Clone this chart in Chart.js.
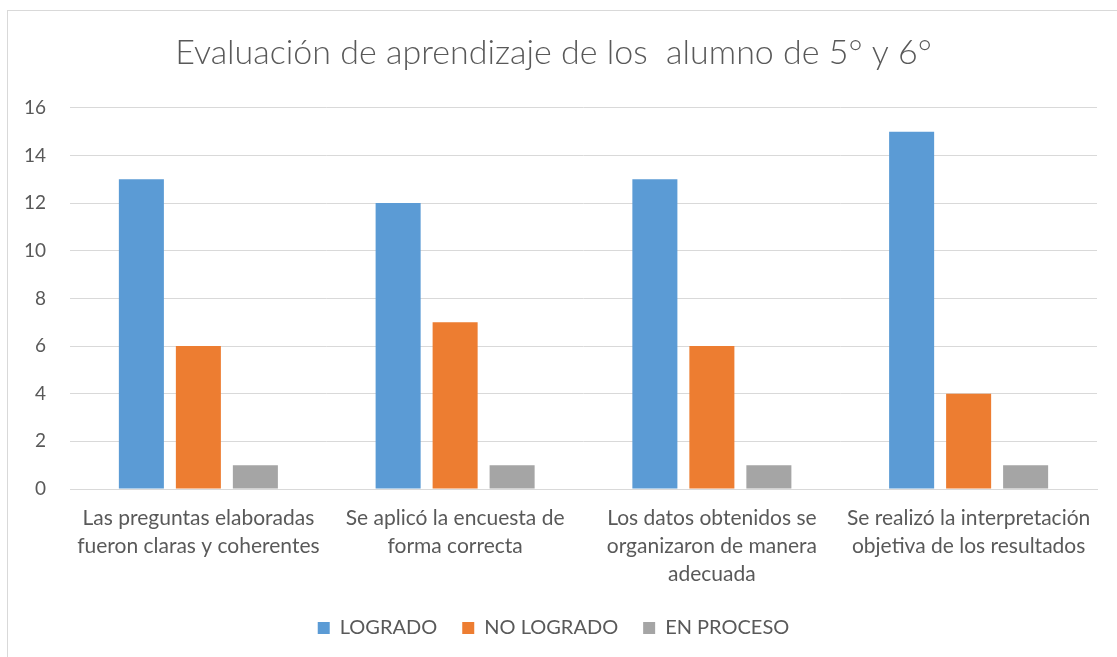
<!DOCTYPE html>
<html>
<head>
<meta charset="utf-8">
<script src="https://cdn.jsdelivr.net/npm/chart.js@4/dist/chart.umd.min.js"></script>
<style>
html,body{margin:0;padding:0;background:#fff;}
#wrap{position:absolute;left:0;top:0;width:1117px;height:657px;}
</style>
</head>
<body>
<div id="wrap"><canvas id="c" width="1117" height="657"></canvas></div>
<script>
const titleText = 'Evaluación de aprendizaje de los  alumno de 5° y 6°';
const categories = [
  ['Las preguntas elaboradas', 'fueron claras y coherentes'],
  ['Se aplicó la encuesta de', 'forma correcta'],
  ['Los datos obtenidos se', 'organizaron de manera', 'adecuada'],
  ['Se realizó la interpretación', 'objetiva de los resultados']
];
const seriesNames = ['LOGRADO', 'NO LOGRADO', 'EN PROCESO'];
const logrado = [13, 12, 13, 15];
const noLogrado = [6, 7, 6, 4];
const enProceso = [1, 1, 1, 1];
const yTicks = [0, 2, 4, 6, 8, 10, 12, 14, 16];
const colors = ['#5B9BD5', '#ED7D31', '#A5A5A5'];

const FONT = 'Lato, "Liberation Sans", sans-serif';
const TXT = '#595959';

const frame = {
  id: 'frame',
  beforeDraw(chart) {
    const ctx = chart.ctx;
    ctx.save();
    ctx.fillStyle = '#fff';
    ctx.fillRect(0, 0, chart.width, chart.height);
    ctx.strokeStyle = '#d9d9d9';
    ctx.lineWidth = 1;
    ctx.strokeRect(7.5, 10.5, chart.width + 20, chart.height + 20);
    ctx.restore();
  }
};

new Chart(document.getElementById('c'), {
  type: 'bar',
  data: {
    labels: categories,
    datasets: [
      { label: seriesNames[0], data: logrado, backgroundColor: colors[0] },
      { label: seriesNames[1], data: noLogrado, backgroundColor: colors[1] },
      { label: seriesNames[2], data: enProceso, backgroundColor: colors[2] }
    ]
  },
  options: {
    responsive: false,
    animation: false,
    devicePixelRatio: 1,
    layout: { padding: { left: 10, right: 20, top: 0, bottom: 9 } },
    datasets: { bar: { categoryPercentage: 0.666, barPercentage: 0.79 } },
    plugins: {
      title: {
        display: true,
        text: titleText,
        color: TXT,
        font: { family: FONT, size: 34, weight: '300', lineHeight: 1.2 },
        padding: { top: 33, bottom: 34 }
      },
      legend: {
        position: 'bottom',
        labels: {
          color: TXT,
          font: { family: FONT, size: 20 },
          boxWidth: 12,
          boxHeight: 12,
          padding: 25
        }
      },
      tooltip: { enabled: false }
    },
    scales: {
      x: {
        grid: { display: false, drawTicks: false },
        border: { display: true, color: '#d9d9d9' },
        ticks: {
          color: TXT,
          font: { family: FONT, size: 21, lineHeight: 1.33 },
          padding: 15,
          maxRotation: 0,
          autoSkip: false
        },
        afterFit(scale) { scale.height = 104; }
      },
      y: {
        min: 0, max: 16,
        afterBuildTicks(scale) { scale.ticks = yTicks.map(v => ({ value: v })); },
        grid: { color: '#d9d9d9', drawTicks: false },
        border: { display: false },
        ticks: {
          color: TXT,
          font: { family: FONT, size: 19 },
          padding: 24
        },
        afterFit(scale) { scale.width = 60; }
      }
    }
  },
  plugins: [frame]
});
</script>
</body>
</html>
